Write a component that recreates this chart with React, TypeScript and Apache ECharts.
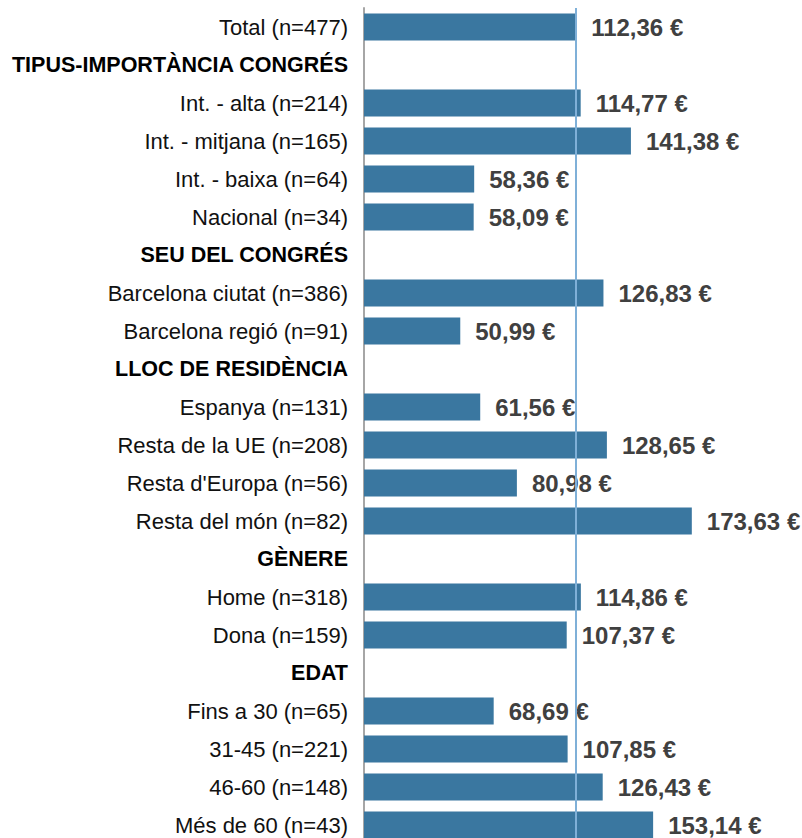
import React, { useEffect, useRef } from "react";
import * as echarts from "echarts";

const categories: string[] = [
  "Total (n=477)",
  "TIPUS-IMPORTÀNCIA CONGRÉS",
  "Int. - alta (n=214)",
  "Int. - mitjana (n=165)",
  "Int. - baixa (n=64)",
  "Nacional (n=34)",
  "SEU DEL CONGRÉS",
  "Barcelona ciutat (n=386)",
  "Barcelona regió (n=91)",
  "LLOC DE RESIDÈNCIA",
  "Espanya (n=131)",
  "Resta de la UE (n=208)",
  "Resta d'Europa (n=56)",
  "Resta del món (n=82)",
  "GÈNERE",
  "Home (n=318)",
  "Dona (n=159)",
  "EDAT",
  "Fins a 30 (n=65)",
  "31-45 (n=221)",
  "46-60 (n=148)",
  "Més de 60 (n=43)",
];

const headers: string[] = [
  "TIPUS-IMPORTÀNCIA CONGRÉS",
  "SEU DEL CONGRÉS",
  "LLOC DE RESIDÈNCIA",
  "GÈNERE",
  "EDAT",
];

const values: (number | null)[] = [
  112.36,
  null,
  114.77,
  141.38,
  58.36,
  58.09,
  null,
  126.83,
  50.99,
  null,
  61.56,
  128.65,
  80.98,
  173.63,
  null,
  114.86,
  107.37,
  null,
  68.69,
  107.85,
  126.43,
  153.14,
];

const referenceValue = 112.36;

const FONT = "'Liberation Sans', Arial, Helvetica, sans-serif";

export default function App() {
  const ref = useRef<HTMLDivElement>(null);
  useEffect(() => {
    if (!ref.current) return;
    const chart = echarts.init(ref.current, undefined, { renderer: "svg" });
    chart.setOption({
      animation: false,
      grid: { left: 364, width: 377.6, top: 8, height: 836, containLabel: false },
      xAxis: {
        type: "value",
        min: 0,
        max: 200,
        show: false,
        splitLine: { show: false },
      },
      yAxis: {
        type: "category",
        inverse: true,
        data: categories,
        axisLine: { show: true, lineStyle: { color: "#A6A6A6", width: 2 } },
        axisTick: { show: false },
        splitLine: { show: false },
        axisLabel: {
          margin: 16,
          interval: 0,
          formatter: (v: string) =>
            headers.includes(v) ? `{h|${v}}` : `{n|${v}}`,
          rich: {
            h: { fontFamily: FONT, fontSize: 21.5, fontWeight: "bold", color: "#000000" },
            n: { fontFamily: FONT, fontSize: 22, color: "#111111" },
          },
        },
      },
      series: [
        {
          type: "bar",
          data: values.map((v) => (v === null ? "-" : v)),
          barCategoryGap: "29%",
          itemStyle: { color: "#3A77A0" },
          label: {
            show: true,
            position: "right",
            distance: 15,
            fontFamily: FONT,
            fontSize: 24,
            fontWeight: "bold",
            color: "#404040",
            formatter: (p: any) =>
              typeof p.value === "number"
                ? p.value.toFixed(2).replace(".", ",") + " €"
                : "",
          },
          markLine: {
            silent: true,
            symbol: "none",
            label: { show: false },
            lineStyle: { color: "#7FB0D8", width: 2, type: "solid" },
            data: [{ xAxis: referenceValue }],
          },
        },
      ],
    });
    return () => chart.dispose();
  }, []);
  return (
    <div
      style={{
        position: "absolute",
        left: 0,
        top: 0,
        width: 802,
        height: 838,
        overflow: "hidden",
      }}
    >
      <div ref={ref} style={{ width: 802, height: 846 }} />
    </div>
  );
}
